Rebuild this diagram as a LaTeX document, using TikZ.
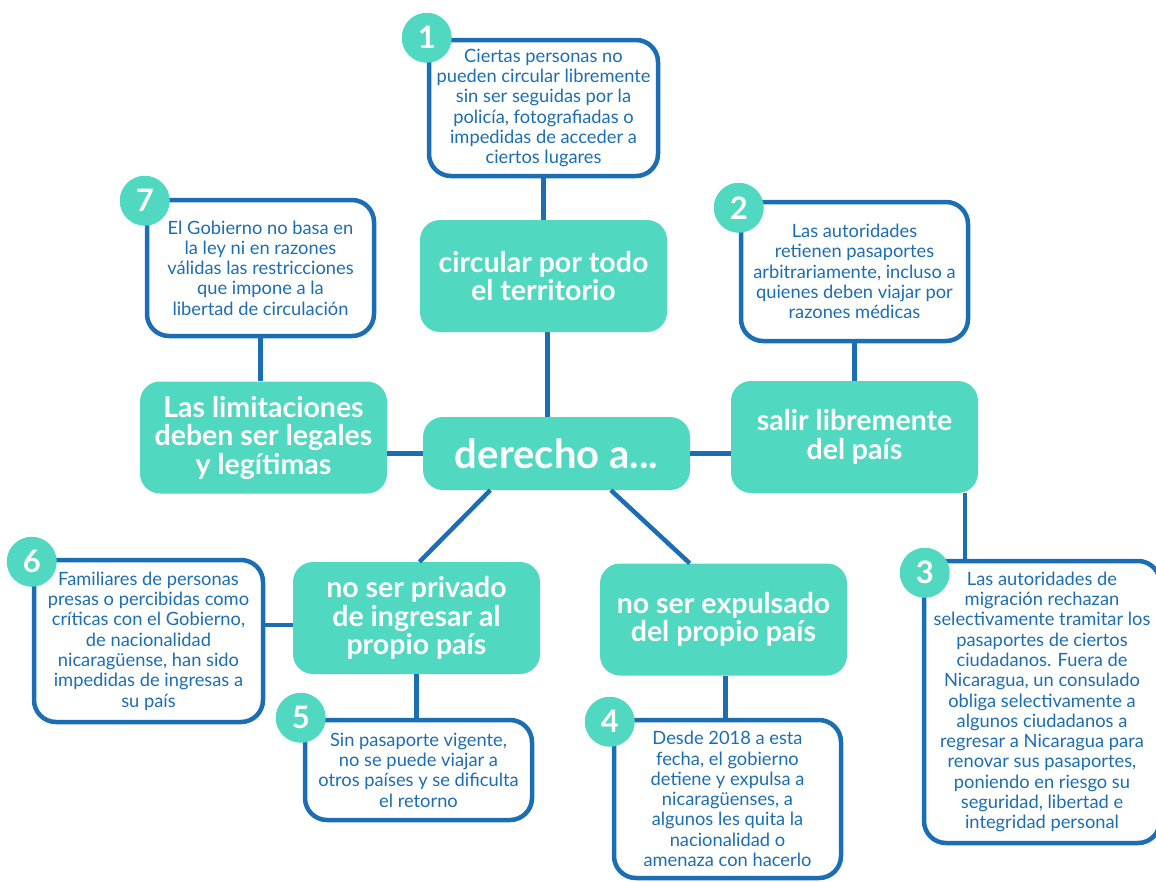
\documentclass[tikz,border=0pt]{standalone}
\usepackage{fontspec}
\setmainfont{Lato}
\usetikzlibrary{positioning}
\definecolor{mintgreen}{HTML}{50D8C0}
\definecolor{inkblue}{HTML}{1B6DB4}

\begin{document}
\begin{tikzpicture}[x=1pt,y=-1pt,
      hub/.style={fill=mintgreen,rounded corners=20pt,minimum width=247pt,minimum height=112pt,align=center,text=white,inner sep=0pt,font=\fontsize{28.5}{28.5}\selectfont\bfseries},
      note/.style={draw=inkblue,line width=4.5pt,fill=white,rounded corners=22pt,align=center,text=inkblue,inner sep=0pt,font=\fontsize{18.3}{20.3}\selectfont},
      badge/.style={circle,fill=mintgreen,minimum size=50pt,inner sep=0pt,text=white,font=\fontsize{31}{31}\selectfont\bfseries},
      link/.style={draw=inkblue,line width=4.5pt}
    ]
    \useasboundingbox (0,0) rectangle (1156,881);
    \node[note,minimum width=229pt,minimum height=136pt] (box1) at (543.5,108) {Ciertas personas no\\pueden circular libremente\\sin ser seguidas por la\\policía, fotografiadas o\\impedidas de acceder a\\ciertos lugares};
    \node[hub] (circ) at (543.5,276) {circular por todo\\el territorio};
    \node[hub,minimum width=267pt,minimum height=73pt,font=\fontsize{40}{40}\selectfont\bfseries] (center) at (556.5,453.5) {derecho a...};
    \node[note,minimum width=227pt,minimum height=139pt] (box2) at (854.5,271.5) {Las autoridades\\retienen pasaportes\\arbitrariamente, incluso a\\quienes deben viajar por\\razones médicas};
    \node[hub] (salir) at (854.5,437) {salir libremente\\del país};
    \node[note,minimum width=236pt,minimum height=282pt] (box3) at (1042,702) {Las autoridades de\\migración rechazan\\selectivamente tramitar los\\pasaportes de ciertos\\ciudadanos. Fuera de\\Nicaragua, un consulado\\obliga selectivamente a\\algunos ciudadanos a\\regresar a Nicaragua para\\renovar sus pasaportes,\\poniendo en riesgo su\\seguridad, libertad e\\integridad personal};
    \node[note,minimum width=227pt,minimum height=136pt] (box7) at (260.5,268) {El Gobierno no basa en\\la ley ni en razones\\válidas las restricciones\\que impone a la\\libertad de circulación};
    \node[hub] (limit) at (263.5,437.5) {Las limitaciones\\deben ser legales\\y legítimas};
    \node[hub] (privado) at (416.5,618) {no ser privado\\de ingresar al\\propio país};
    \node[hub] (expul) at (723.5,619.5) {no ser expulsado\\del propio país};
    \node[note,minimum width=229pt,minimum height=162pt] (box6) at (148.5,641) {Familiares de personas\\presas o percibidas como\\críticas con el Gobierno,\\de nacionalidad\\nicaragüense, han sido\\impedidas de ingresas a\\su país};
    \node[note,minimum width=227pt,minimum height=100pt] (box5) at (418.5,770) {Sin pasaporte vigente,\\no se puede viajar a\\otros países y se dificulta\\el retorno};
    \node[note,minimum width=227pt,minimum height=158pt] (box4) at (727.5,799) {Desde 2018 a esta\\fecha, el gobierno\\detiene y expulsa a\\nicaragüenses, a\\algunos les quita la\\nacionalidad o\\amenaza con hacerlo};
    \node[badge] (n1) at (box1.north west) {1};
    \node[badge,yshift=-8pt] (n2) at (box2.north west) {2};
    \node[badge,xshift=3pt,yshift=-14pt] (n3) at (box3.north west) {3};
    \node[badge,xshift=-2pt,yshift=-4pt] (n4) at (box4.north west) {4};
    \node[badge,xshift=-2pt] (n5) at (box5.north west) {5};
    \node[badge,yshift=-4pt] (n6) at (box6.north west) {6};
    \node[badge,yshift=-3pt] (n7) at (box7.north west) {7};
    \draw[link] (box1.south) -- (circ.north);
    \draw[link] ([xshift=4pt]circ.south) -- ([xshift=4pt]circ.south |- center.north);
    \draw[link] (box2.south) -- (salir.north);
    \draw[link] (salir.-27) -- (salir.-27 |- box3.north);
    \draw[link] (center.east) -- (center.east -| salir.west);
    \draw[link] (center.west) -- (center.west -| limit.east);
    \draw[link] (box7.south) -- (box7.south |- limit.north);
    \draw[link] (center.-151) -- ([xshift=3pt]privado.north);
    \draw[link] (center.-34) -- (expul.121);
    \draw[link] ([yshift=-7pt]privado.west) -- ([yshift=-7pt]privado.west -| box6.east);
    \draw[link] (privado.south) -- (privado.south |- box5.north);
    \draw[link] ([xshift=2pt]expul.south) -- ([xshift=2pt]expul.south |- box4.north);
  \end{tikzpicture}
\end{document}
